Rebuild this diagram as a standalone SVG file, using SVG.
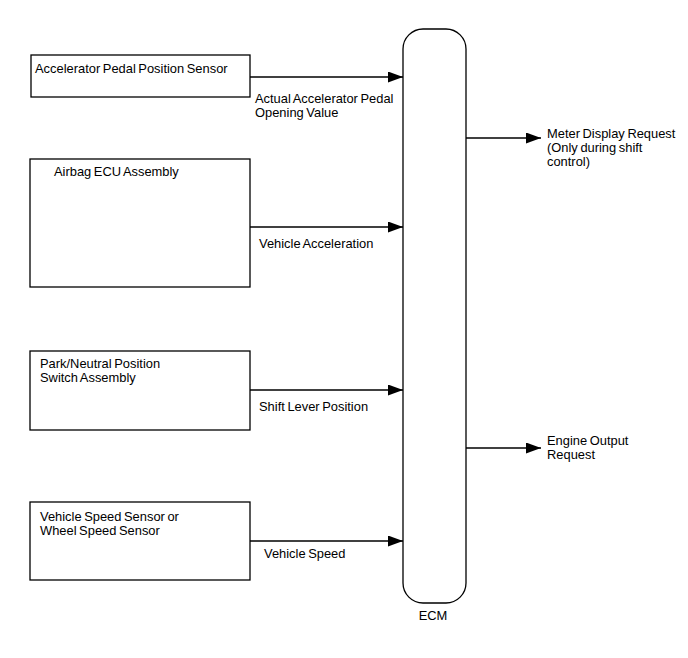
<svg xmlns="http://www.w3.org/2000/svg" width="688" height="658" viewBox="0 0 688 658">
<defs>
<marker id="ah" markerWidth="15" markerHeight="11" refX="15" refY="5.5" orient="auto" markerUnits="userSpaceOnUse">
<path d="M0,0 L15,5.5 L0,11 Z" fill="#000"/>
</marker>
</defs>
<style>
.box{fill:#fff;stroke:#000;stroke-width:1.3}
.t{font-family:"Liberation Sans",Arial,sans-serif;font-size:12.9px;fill:#000;word-spacing:-1px}
.c{stroke:#000;stroke-width:1.3;fill:none}
</style>
<rect width="688" height="658" fill="#fff"/>
<g id="ecm">
<rect class="box" x="403" y="29" width="63" height="574" rx="20" ry="20"/>
<text class="t" x="433" y="620" text-anchor="middle">ECM</text>
</g>
<g id="apps">
<rect class="box" x="31" y="55" width="219" height="42"/>
<text class="t" x="35" y="73">Accelerator Pedal Position Sensor</text>
</g>
<g id="airbag">
<rect class="box" x="30" y="159" width="220" height="128"/>
<text class="t" x="54" y="176">Airbag ECU Assembly</text>
</g>
<g id="pnp">
<rect class="box" x="30" y="351" width="220" height="79"/>
<text class="t" x="40" y="368">Park/Neutral Position</text>
<text class="t" x="40" y="382">Switch Assembly</text>
</g>
<g id="speed">
<rect class="box" x="30" y="502" width="220" height="78"/>
<text class="t" x="40" y="521">Vehicle Speed Sensor or</text>
<text class="t" x="40" y="535">Wheel Speed Sensor</text>
</g>
<g id="connectors">
<line class="c" x1="250" y1="77" x2="403" y2="77" marker-end="url(#ah)"/>
<line class="c" x1="250" y1="227" x2="403" y2="227" marker-end="url(#ah)"/>
<line class="c" x1="250" y1="390" x2="403" y2="390" marker-end="url(#ah)"/>
<line class="c" x1="250" y1="541" x2="403" y2="541" marker-end="url(#ah)"/>
<line class="c" x1="466" y1="138" x2="541" y2="138" marker-end="url(#ah)"/>
<line class="c" x1="466" y1="448" x2="541" y2="448" marker-end="url(#ah)"/>
</g>
<g id="labels">
<text class="t" x="255" y="103">Actual Accelerator Pedal</text>
<text class="t" x="255" y="117">Opening Value</text>
<text class="t" x="259" y="248">Vehicle Acceleration</text>
<text class="t" x="259" y="411">Shift Lever Position</text>
<text class="t" x="264" y="558">Vehicle Speed</text>
<text class="t" x="547" y="138">Meter Display Request</text>
<text class="t" x="547" y="152">(Only during shift</text>
<text class="t" x="547" y="166">control)</text>
<text class="t" x="547" y="445">Engine Output</text>
<text class="t" x="547" y="459">Request</text>
</g>
</svg>
